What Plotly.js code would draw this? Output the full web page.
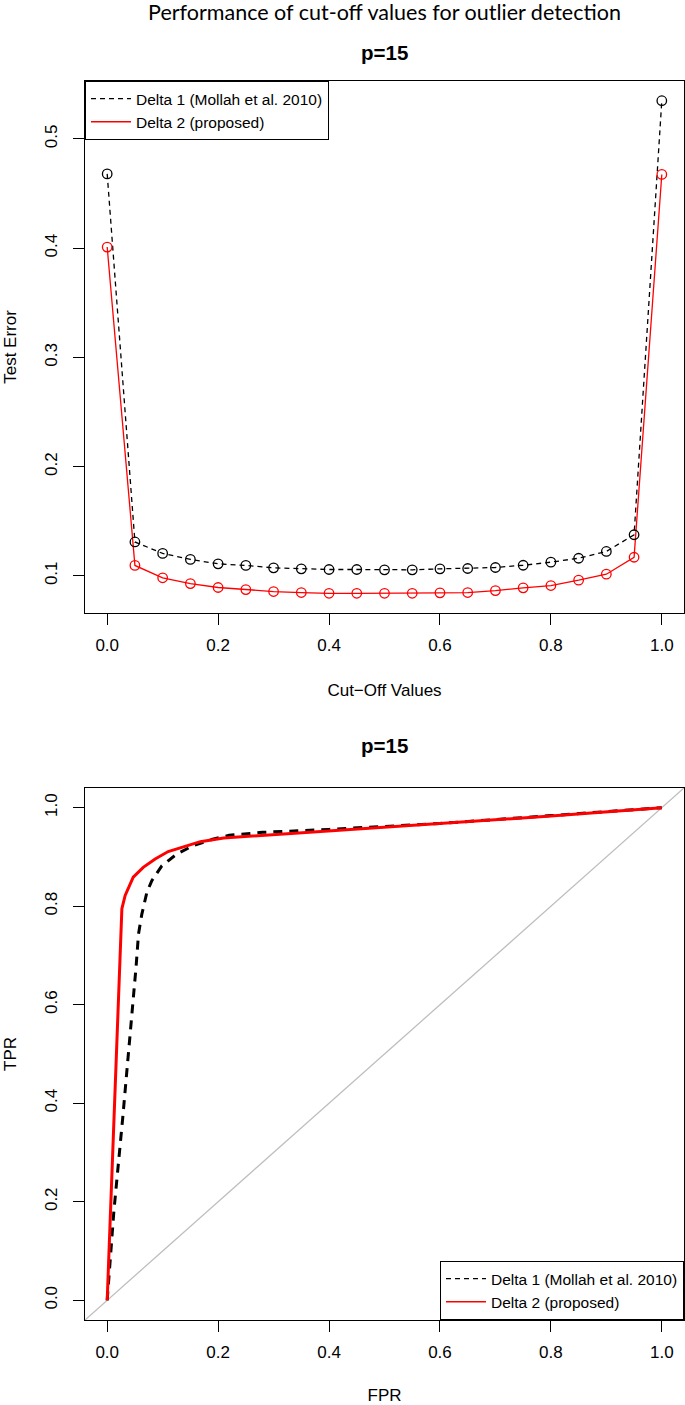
<!DOCTYPE html>
<html>
<head>
<meta charset="utf-8">
<script src="https://cdn.plot.ly/plotly-3.0.1.min.js"></script>
<style>html,body{margin:0;padding:0;background:#fff;}#chart{width:685px;height:1405px;}</style>
</head>
<body>
<div id="chart"></div>
<script>
// ---- data ----
const cutoff = [0, 0.05, 0.1, 0.15, 0.2, 0.25, 0.3, 0.35, 0.4, 0.45, 0.5, 0.55, 0.6, 0.65, 0.7, 0.75, 0.8, 0.85, 0.9, 0.95, 1.0];
const delta1Err = [0.468, 0.131, 0.1205, 0.115, 0.111, 0.1095, 0.1073, 0.1064, 0.1058, 0.1058, 0.1055, 0.1055, 0.1064, 0.1067, 0.1076, 0.1097, 0.1125, 0.1161, 0.1223, 0.1376, 0.535];
const delta2Err = [0.401, 0.1095, 0.0982, 0.0929, 0.0893, 0.0874, 0.0856, 0.0847, 0.084, 0.084, 0.084, 0.084, 0.0844, 0.0847, 0.0865, 0.089, 0.0911, 0.096, 0.1015, 0.117, 0.4675];

const fpr1 = [0, 0.012, 0.028, 0.04, 0.052, 0.0565, 0.0625, 0.0715, 0.0805, 0.0985, 0.1255, 0.155, 0.19, 0.22, 0.28, 0.4, 0.6, 0.8, 1.0];
const tpr1 = [0, 0.18, 0.37, 0.52, 0.676, 0.744, 0.784, 0.828, 0.852, 0.882, 0.906, 0.923, 0.936, 0.944, 0.95, 0.956, 0.968, 0.984, 1.0];
const fpr2 = [0, 0.0265, 0.0324, 0.047, 0.065, 0.0865, 0.11, 0.1375, 0.168, 0.21, 0.4, 0.6, 0.8, 1.0];
const tpr2 = [0, 0.795, 0.822, 0.859, 0.879, 0.896, 0.911, 0.921, 0.931, 0.9385, 0.953, 0.967, 0.983, 1.0];

const diagRef = [-0.1, 1.1];

const seriesNames = ["Delta 1 (Mollah et al. 2010)", "Delta 2 (proposed)"];
const unitTicks = [0, 0.2, 0.4, 0.6, 0.8, 1.0];
const errTicks = [0.1, 0.2, 0.3, 0.4, 0.5];

// ---- helpers ----
function rRange(arrs) {
  const all = [].concat(...arrs);
  const lo = Math.min(...all), hi = Math.max(...all);
  const pad = 0.04 * (hi - lo);
  return [lo - pad, hi + pad];
}
const FONT = "Liberation Sans, Arial, Helvetica, sans-serif";

const traces = [
  {x: cutoff, y: delta1Err, xaxis: 'x', yaxis: 'y', mode: 'lines', name: seriesNames[0], legend: 'legend',
   line: {color: '#000', width: 1.3, dash: '5px,4px'}},
  {x: cutoff, y: delta2Err, xaxis: 'x', yaxis: 'y', mode: 'lines', name: seriesNames[1], legend: 'legend',
   line: {color: '#ff0000', width: 1.3}},
  {x: cutoff, y: delta1Err, xaxis: 'x', yaxis: 'y', mode: 'markers', showlegend: false,
   marker: {symbol: 'circle-open', size: 9.5, color: '#000', line: {width: 1.3, color: '#000'}}},
  {x: cutoff, y: delta2Err, xaxis: 'x', yaxis: 'y', mode: 'markers', showlegend: false,
   marker: {symbol: 'circle-open', size: 9.5, color: '#ff0000', line: {width: 1.3, color: '#ff0000'}}},

  {x: diagRef, y: diagRef, xaxis: 'x2', yaxis: 'y2', mode: 'lines', showlegend: false,
   line: {color: '#bebebe', width: 1.3}},
  {x: fpr1, y: tpr1, xaxis: 'x2', yaxis: 'y2', mode: 'lines', showlegend: false,
   line: {color: '#000', width: 3, dash: '9px,7px'}},
  {x: fpr2, y: tpr2, xaxis: 'x2', yaxis: 'y2', mode: 'lines', showlegend: false,
   line: {color: '#ff0000', width: 3}},
  {x: [null], y: [null], xaxis: 'x2', yaxis: 'y2', mode: 'lines', name: seriesNames[0], legend: 'legend2',
   line: {color: '#000', width: 1.3, dash: '5px,4px'}},
  {x: [null], y: [null], xaxis: 'x2', yaxis: 'y2', mode: 'lines', name: seriesNames[1], legend: 'legend2',
   line: {color: '#ff0000', width: 1.3}}
];

const axisBase = {
  showline: true, mirror: true, linecolor: '#000', linewidth: 1,
  ticks: 'outside', ticklen: 11, tickwidth: 1, tickcolor: '#000',
  showgrid: false, zeroline: false,
  tickfont: {family: FONT, size: 17, color: '#000'},
  tickformat: '.1f', tickmode: 'array'
};

const topYDomain = [(1320 - 613) / 1239, 1];
const botYDomain = [0, (1320 - 788) / 1239];

const legendBase = {xref: 'paper', yref: 'paper', bordercolor: '#000', borderwidth: 1, bgcolor: '#fff',
  font: {family: FONT, size: 15.5, color: '#000'}, tracegroupgap: 0, itemwidth: 40};

const layout = {
  width: 685, height: 1405,
  margin: {l: 85, r: 1, t: 81, b: 85},
  paper_bgcolor: '#fff', plot_bgcolor: '#fff',
  font: {family: FONT, color: '#000'},
  title: {text: 'Performance of cut-off values for outlier detection',
          font: {family: 'Lato, Open Sans, sans-serif', size: 21.5, color: '#000'},
          x: 0.5, xref: 'paper', xanchor: 'center', y: 1 - 12 / 1405, yref: 'container', yanchor: 'middle'},
  xaxis: Object.assign({}, axisBase, {domain: [0, 1], anchor: 'y', range: [-0.04, 1.04], tickvals: unitTicks,
          ticklabelstandoff: 6,
          title: {text: 'Cut\u2212Off Values', font: {family: FONT, size: 17}, standoff: 29}}),
  yaxis: Object.assign({}, axisBase, {domain: topYDomain, anchor: 'x', range: rRange([delta1Err, delta2Err]),
          tickvals: errTicks, tickangle: -90, ticklabelstandoff: 9,
          title: {text: 'Test Error', font: {family: FONT, size: 17}, standoff: 21}}),
  xaxis2: Object.assign({}, axisBase, {domain: [0, 1], anchor: 'y2', range: [-0.04, 1.04], tickvals: unitTicks,
          ticklabelstandoff: 6,
          title: {text: 'FPR', font: {family: FONT, size: 17}, standoff: 29}}),
  yaxis2: Object.assign({}, axisBase, {domain: botYDomain, anchor: 'x2', range: [-0.04, 1.04],
          tickvals: unitTicks, tickangle: -90, ticklabelstandoff: 9,
          title: {text: 'TPR', font: {family: FONT, size: 17}, standoff: 21}}),
  legend: Object.assign({}, legendBase, {x: 0, y: 1, xanchor: 'left', yanchor: 'top'}),
  legend2: Object.assign({}, legendBase, {x: 1, y: 0, xanchor: 'right', yanchor: 'bottom'}),
  annotations: [
    {text: '<b>p=15</b>', xref: 'paper', yref: 'paper', x: 0.5, y: (1320 - 53) / 1239,
     xanchor: 'center', yanchor: 'middle', showarrow: false, font: {family: FONT, size: 20.5, color: '#000'}},
    {text: '<b>p=15</b>', xref: 'paper', yref: 'paper', x: 0.5, y: (1320 - 745) / 1239,
     xanchor: 'center', yanchor: 'middle', showarrow: false, font: {family: FONT, size: 20.5, color: '#000'}}
  ],
  showlegend: true
};

Plotly.newPlot('chart', traces, layout, {staticPlot: true, displayModeBar: false});
</script>
</body>
</html>
